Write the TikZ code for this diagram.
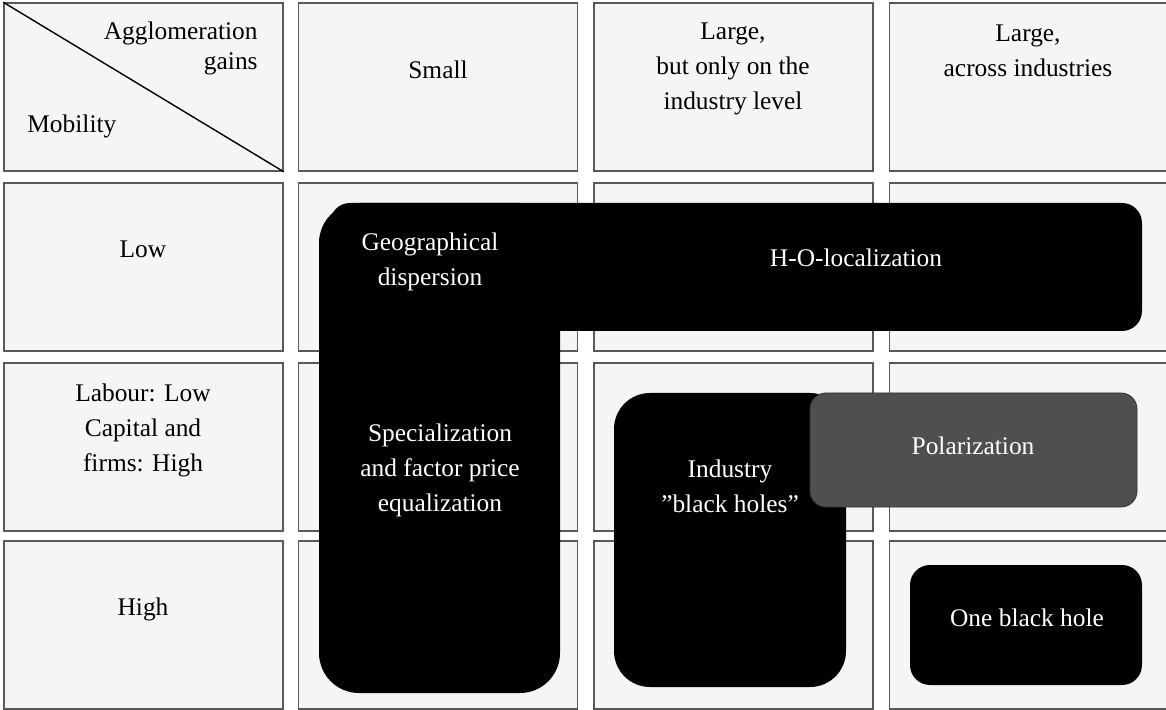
\documentclass[tikz,border=0pt]{standalone}
\usepackage{fontspec}
\setmainfont{Liberation Serif}
\usepackage{xcolor}
\usetikzlibrary{positioning}

\tikzset{
  cell/.style={draw=black!65, fill=black!4, line width=0.8pt, minimum width=139.5pt, minimum height=84pt, inner sep=0pt},
  txt/.style={align=center, inner sep=0pt, font=\fontsize{12.7}{17.5}\selectfont},
  wtxt/.style={txt, text=white},
}

\begin{document}
\begin{tikzpicture}[x=0.5pt, y=-0.5pt]
\useasboundingbox (0,0) rectangle (1166,710);

% Grade de celulas
\foreach \cx [count=\i] in {143.5,438,733.5,1029}
  \foreach \cy [count=\j] in {87,267,447,625}
    \node[cell] (cell\j\i) at (\cx,\cy) {};

% Diagonal do canto
\draw[line width=0.7pt] (cell11.north west) -- (cell11.south east);

% Cabecalhos
\node[txt, align=right, anchor=east, font=\fontsize{12.7}{15}\selectfont] (gains) at (258,48) {Agglomeration\\gains};
\node[txt, anchor=west] (mobility) at (27,126) {Mobility};
\node[txt] (small) at (438,70) {Small};
\node[txt] (largeind) at (733,69) {Large,\\but only on the\\industry level};
\node[txt] (largeacr) at (1028,51) {Large,\\across industries};

% Linhas
\node[txt] (low) at (143,249) {Low};
\node[txt] (labour) at (143,430) {Labour: Low\\Capital and\\firms: High};
\node[txt] (high) at (143,609) {High};

% Bloco em L
\fill[black, rounded corners=20pt] (319,203) rectangle (560,693);
\fill[black, rounded corners=10pt] (330,203) rectangle (1142,331);
\node[wtxt] (geo) at (430,262) {Geographical\\dispersion};
\node[wtxt] (ho) at (856,258) {H-O-localization};
\node[wtxt] (spec) at (440,470) {Specialization\\and factor price\\equalization};

% Buracos negros da industria
\fill[black, rounded corners=18pt] (614,393) rectangle (846,687);
\node[wtxt] (indbh) at (730,486) {Industry\\''black holes''};

% Polarizacao
\filldraw[fill=black!69, draw=black!80, rounded corners=8pt] (810,393) rectangle (1137,507);
\node[wtxt] (polar) at (973,446) {Polarization};

% Um buraco negro
\fill[black, rounded corners=10pt] (910,565) rectangle (1142,685);
\node[wtxt] (onebh) at (1027,618) {One black hole};

\end{tikzpicture}
\end{document}
